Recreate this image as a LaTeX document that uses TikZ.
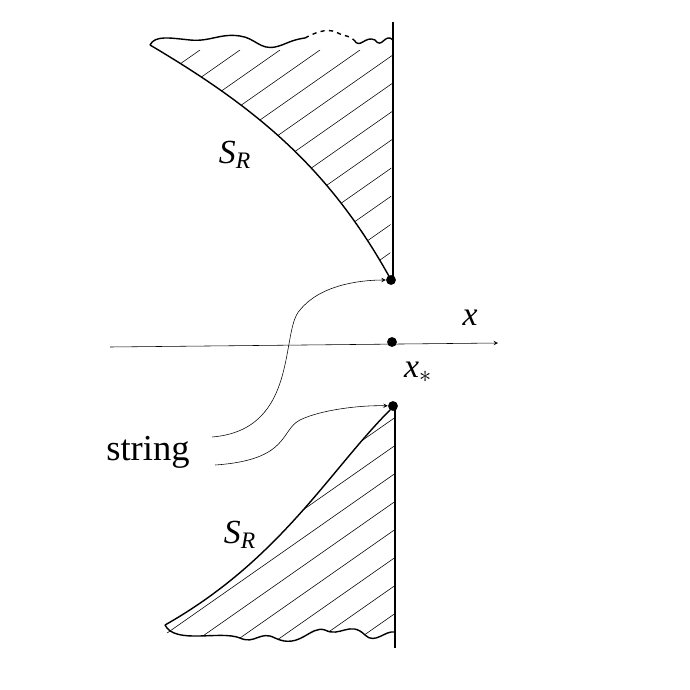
\documentclass[tikz,border=0pt]{standalone}
\usepackage{fontspec}
\setmainfont{Liberation Serif}
\begin{document}
\begin{tikzpicture}[>=stealth,x=0.025cm,y=-0.025cm,
  hatch/.style={thin},
  edge/.style={line width=1pt},
  dot/.style={circle,fill,inner sep=0pt,minimum size=7pt}]
\useasboundingbox (0,0) rectangle (690,690);
% upper region
\begin{scope}
\clip (150,45) .. controls (260,110) and (330,170) .. (390,278) -- (393,45) -- cycle;
\foreach \i in {-12,...,14} \draw[hatch] (100+40*\i,400) -- ++(500,-350);
\end{scope}
\draw[edge] (150,45) .. controls (260,110) and (330,170) .. (390,278);
\draw[edge] (150,45) .. controls (155,35) and (170,38) .. (190,40)
  .. controls (210,42) and (220,33) .. (240,36)
  .. controls (255,38) and (260,50) .. (275,47)
  .. controls (285,45) and (290,40) .. (305,38);
\draw[edge,dashed] (305,38) .. controls (320,30) and (330,28) .. (340,34)
  .. controls (345,36) and (350,36) .. (354,40);
\draw[edge] (354,40) .. controls (360,50) and (365,35) .. (375,40)
  .. controls (382,50) and (385,32) .. (393,40);
\draw[edge] (393,22) -- (393,280);
% lower region
\begin{scope}
\clip (390,410) .. controls (330,470) and (280,560) .. (165,625) -- (165,650) -- (395,650) -- (395,405) -- cycle;
\foreach \i in {-12,...,14} \draw[hatch] (0+40*\i,750) -- ++(500,-350);
\end{scope}
\fill[white] (160,628) .. controls (175,645) and (220,630) .. (240,638)
  .. controls (255,645) and (260,630) .. (275,638)
  .. controls (300,650) and (310,625) .. (325,630)
  .. controls (340,638) and (350,620) .. (365,635)
  .. controls (375,645) and (385,630) .. (394,632) -- (394,660) -- (160,660) -- cycle;
\draw[edge] (390,410) .. controls (330,470) and (280,560) .. (165,625);
\draw[edge] (165,625) .. controls (175,645) and (220,630) .. (240,638)
  .. controls (255,645) and (260,630) .. (275,638)
  .. controls (300,650) and (310,625) .. (325,630)
  .. controls (340,638) and (350,620) .. (365,635)
  .. controls (375,645) and (385,630) .. (395,632);
\draw[edge] (395,405) -- (395,648);
% axis
\coordinate (a0) at (110,347);
\coordinate (a1) at (498,343);
\draw[->] (a0) -- (a1);
\node[dot] (top) at (391,280) {};
\node[dot] (mid) at (392,342) {};
\node[dot] (bot) at (393,406) {};
\node (xl) at (470,318) {\fontsize{24}{24}\selectfont\itshape x};
\node (xs) at (418,372) {\fontsize{24}{24}\selectfont\itshape x$_*$};
\node (s1) at (235,155) {\fontsize{24}{24}\selectfont\itshape S\textsubscript{R}};
\node (s2) at (240,535) {\fontsize{24}{24}\selectfont\itshape S\textsubscript{R}};
\node (str) at (148,452) {\fontsize{26}{26}\selectfont string};
% string arrows
\coordinate (p1) at (212,437);
\coordinate (p2) at (215,465);
\draw[->] (p1) .. controls (300,430) and (280,330) .. (300,310) .. controls (320,285) and (360,280) .. (top);
\draw[->] (p2) .. controls (290,460) and (280,430) .. (300,420) .. controls (320,410) and (360,405) .. (bot);
\end{tikzpicture}
\end{document}
